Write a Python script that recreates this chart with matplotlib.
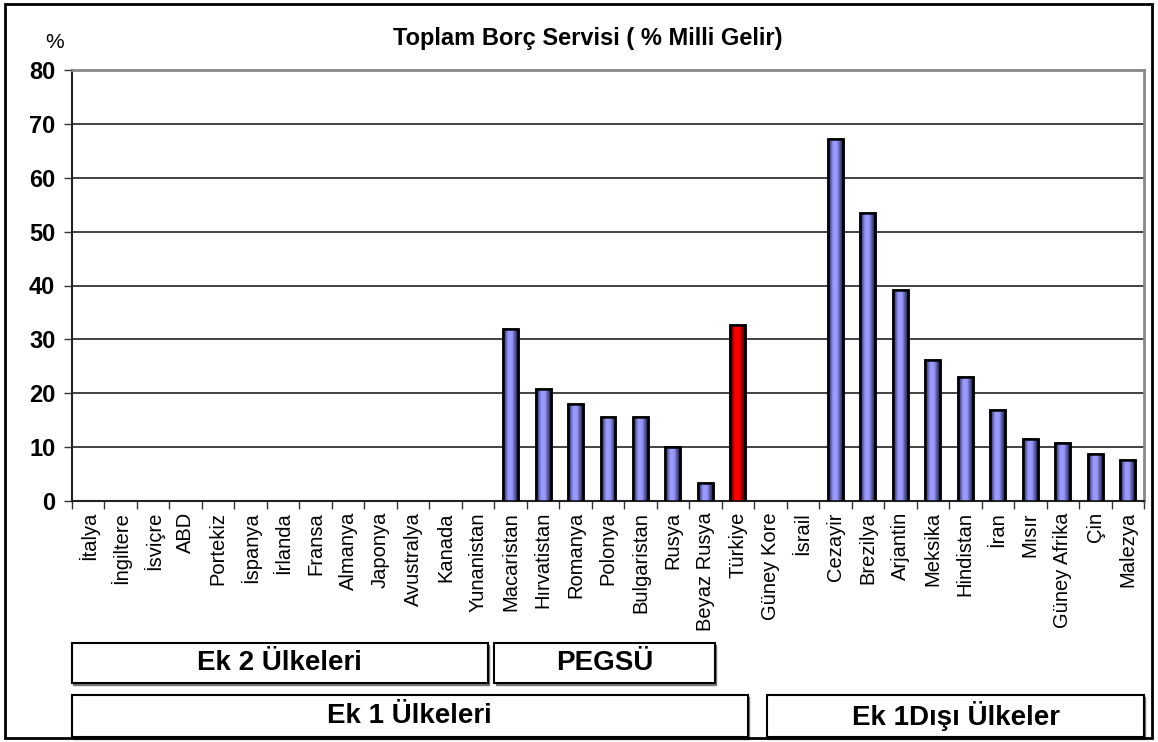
import numpy as np
import matplotlib.pyplot as plt
from matplotlib.patches import Rectangle
from matplotlib.colors import LinearSegmentedColormap
from matplotlib.transforms import blended_transform_factory

plt.rcParams['font.family'] = ['Liberation Sans', 'DejaVu Sans']

ulkeler = ['İtalya', 'İngiltere', 'İsviçre', 'ABD', 'Portekiz', 'İspanya', 'İrlanda',
           'Fransa', 'Almanya', 'Japonya', 'Avustralya', 'Kanada', 'Yunanistan',
           'Macaristan', 'Hırvatistan', 'Romanya', 'Polonya', 'Bulgaristan', 'Rusya',
           'Beyaz Rusya', 'Türkiye', 'Güney Kore', 'İsrail', 'Cezayir', 'Brezilya',
           'Arjantin', 'Meksika', 'Hindistan', 'İran', 'Mısır', 'Güney Afrika', 'Çin',
           'Malezya']
borc_servisi = [0, 0, 0, 0, 0, 0, 0, 0, 0, 0, 0, 0, 0,
                32.0, 20.7, 18.0, 15.6, 15.6, 10.1, 3.3,
                32.7, 0, 0, 67.1, 53.4, 39.1, 26.1, 23.1, 16.8, 11.6, 10.8, 8.7, 7.7]
vurgu = 'Türkiye'

# alt gruplar: (etiket, ilk indeks, son indeks, satır)
gruplar = [('Ek 2 Ülkeleri', 0, 12, 0), ('PEGSÜ', 13, 19, 0),
           ('Ek 1 Ülkeleri', 0, 20, 1), ('Ek 1Dışı Ülkeler', 21, 32, 1)]

W, H = 1158, 742
fig = plt.figure(figsize=(W / 100, H / 100), dpi=100)
ax = fig.add_axes([72 / W, 1 - 501 / H, (1144 - 72) / W, (501 - 70) / H])

x = np.arange(len(ulkeler))
renkler = ['#FF0000' if u == vurgu else '#9999FF' for u in ulkeler]
bars = ax.bar(x, borc_servisi, width=0.46, color=renkler, edgecolor='black',
              linewidth=1.8, zorder=3)

# kenarlara doğru koyulaşan gölgelendirme
grad = np.linspace(0, 1, 64).reshape(1, -1)
for b, r in zip(bars, renkler):
    if b.get_height() <= 0:
        b.set_visible(False)
        continue
    koyu = '#1a1a40' if r != '#FF0000' else '#400000'
    cmap = LinearSegmentedColormap.from_list(
        'g', [(0, koyu), (0.35, r), (0.6, r), (1, koyu)])
    im = ax.imshow(grad, cmap=cmap, aspect='auto', zorder=3.5, vmin=0, vmax=1,
                   interpolation='bilinear',
                   extent=(b.get_x(), b.get_x() + b.get_width(), 0, b.get_height()))
    im.set_clip_path(b)
    # kenar çizgisi gradyanın üstünde kalsın
    ax.add_patch(Rectangle(b.get_xy(), b.get_width(), b.get_height(), fill=False,
                           edgecolor='black', linewidth=1.8, zorder=4))

ax.set_xlim(-0.5, len(ulkeler) - 0.5)
ax.set_ylim(0, 80)
ax.set_yticks(range(0, 81, 10))
ax.set_yticklabels([str(v) for v in range(0, 81, 10)], fontsize=17, fontweight='bold')
ax.set_xticks(x)
ax.set_xticklabels(ulkeler, rotation=90, fontsize=14.5)
ax.set_xticks(np.arange(-0.5, len(ulkeler), 1), minor=True)
ax.tick_params(axis='x', which='major', length=0, pad=8)
ax.tick_params(axis='x', which='minor', length=6, width=1, color='#333333')
ax.tick_params(axis='y', length=6, width=1, color='#333333', pad=6)
ax.yaxis.grid(True, color='#222222', linewidth=1.2, zorder=0)
ax.set_axisbelow(True)
for s in ['left', 'bottom']:
    ax.spines[s].set_color('#222222')
    ax.spines[s].set_linewidth(1.5)
for s in ['top', 'right']:
    ax.spines[s].set_color('#888888')
    ax.spines[s].set_linewidth(2)

fig.text(588 / W, 1 - 38 / H, 'Toplam Borç Servisi ( % Milli Gelir)', ha='center',
         va='center', fontsize=17, fontweight='bold')
fig.text(55 / W, 1 - 43 / H, '%', ha='center', va='center', fontsize=15)

# grup kutuları
tr = blended_transform_factory(ax.transData, fig.transFigure)
satir_y = [(643, 683), (695, 737)]
for etiket, i0, i1, satir in gruplar:
    y_ust, y_alt = satir_y[satir]
    x0 = i0 - 0.5
    x1 = i1 + 0.3
    if etiket.startswith('Ek 1D'):
        x0 = i0 - 0.1
        x1 = i1 + 0.5
    y0 = 1 - y_alt / H
    h = (y_alt - y_ust) / H
    fig.add_artist(Rectangle((x0 + 0.04, y0 - 2 / H), x1 - x0, h, transform=tr,
                             facecolor='#777777', edgecolor='#777777', linewidth=1))
    fig.add_artist(Rectangle((x0, y0), x1 - x0, h, transform=tr,
                             facecolor='white', edgecolor='black', linewidth=1.5))
    fig.text((x0 + x1) / 2, y0 + h / 2, etiket, transform=tr, ha='center', va='center',
             fontsize=20, fontweight='bold',
             family=['Liberation Sans Narrow', 'Liberation Sans', 'DejaVu Sans'])

# dış çerçeve
fig.add_artist(Rectangle((5 / W, 1 - 738 / H), 1147 / W, 734 / H,
                         transform=fig.transFigure, fill=False, edgecolor='black',
                         linewidth=2))

fig.savefig('out.png', dpi=100)
